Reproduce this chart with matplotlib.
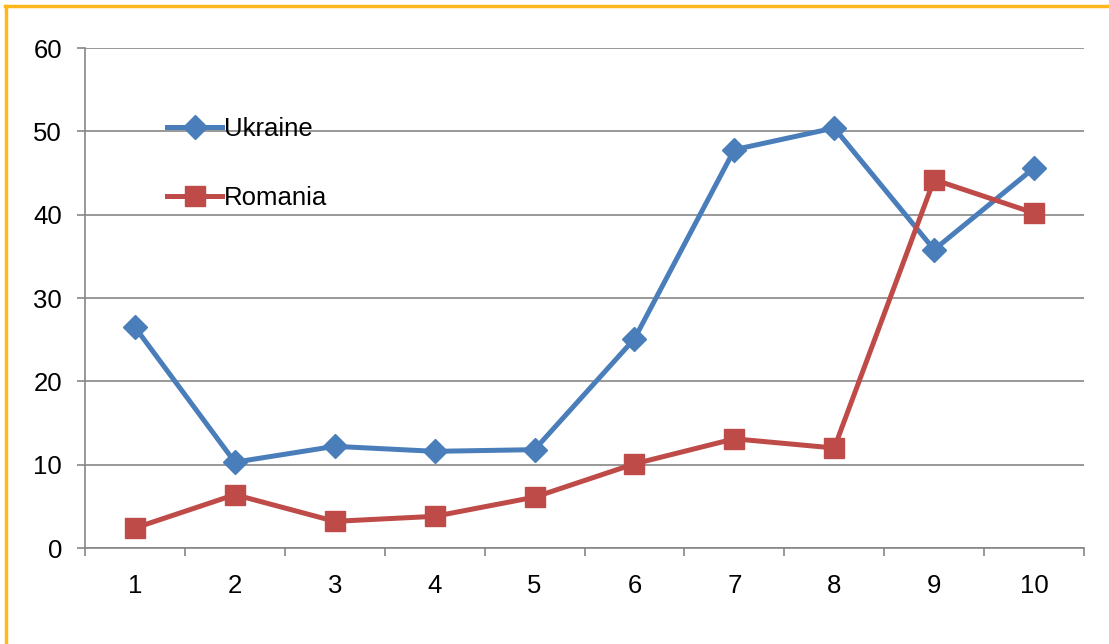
import matplotlib
matplotlib.use("Agg")
import matplotlib.pyplot as plt
from matplotlib.lines import Line2D

categories = [1, 2, 3, 4, 5, 6, 7, 8, 9, 10]
ukraine = [26.5, 10.3, 12.2, 11.6, 11.8, 25.1, 47.8, 50.4, 35.8, 45.6]
romania = [2.4, 6.4, 3.2, 3.8, 6.1, 10.1, 13.1, 12.0, 44.2, 40.2]
yticks = [0, 10, 20, 30, 40, 50, 60]

plt.rcParams['font.family'] = ['Liberation Sans', 'DejaVu Sans']

W, H = 1109, 644
fig = plt.figure(figsize=(W / 100, H / 100), dpi=100)
ax = fig.add_axes([85 / W, 1 - 548 / H, (1084 - 85) / W, (548 - 48) / H])

blue = '#4A7EBB'
red = '#BE4B48'
grid = '#868686'
fs = 18.5

ax.plot(categories, ukraine, color=blue, lw=3.6, marker='D', ms=12,
        markeredgecolor=blue, solid_joinstyle='round', label='Ukraine', zorder=3)
ax.plot(categories, romania, color=red, lw=3.6, marker='s', ms=15,
        markeredgecolor=red, solid_joinstyle='round', label='Romania', zorder=3)

ax.set_xlim(0.5, 10.5)
ax.set_ylim(0, 60)
ax.set_yticks(yticks)
ax.set_xticks(categories)
ax.set_xticks([i + 0.5 for i in range(0, 11)], minor=True)
ax.tick_params(axis='x', which='major', length=0, pad=19, labelsize=fs)
ax.tick_params(axis='x', which='minor', length=6, width=1.2, color=grid, direction='out')
ax.tick_params(axis='y', length=6, width=1.2, color=grid, direction='out', pad=10.5, labelsize=fs)

ax.yaxis.grid(True, color=grid, lw=1.2)
ax.set_axisbelow(True)
for s in ['top', 'right']:
    ax.spines[s].set_visible(False)
for s in ['left', 'bottom']:
    ax.spines[s].set_color(grid)
    ax.spines[s].set_linewidth(1.2)

leg = ax.legend(loc='upper left', bbox_to_anchor=((167 - 85) / 999, (548 - 117) / 500),
                frameon=False, fontsize=fs, handlelength=2.15, handletextpad=0.08,
                labelspacing=1.76, borderpad=0, borderaxespad=0)

orange = '#FFB81C'
fig.add_artist(Line2D([5.5 / W, 5.5 / W], [0, 1 - 6 / H], color=orange, lw=2.5,
                      transform=fig.transFigure))
fig.add_artist(Line2D([5 / W, 1], [1 - 6 / H, 1 - 6 / H], color=orange, lw=2.5,
                      transform=fig.transFigure))

fig.savefig('out.png', dpi=100)
